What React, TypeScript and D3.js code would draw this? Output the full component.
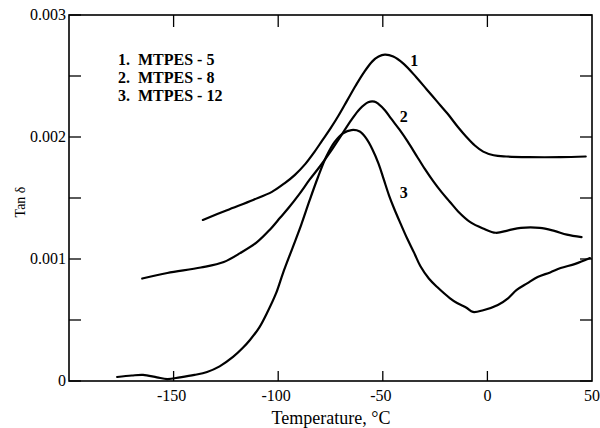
import React from "react";
import * as d3 from "d3";

const xTicks = [-150, -100, -50, 0, 50];
const yTickLabels = [
  { v: 0, t: "0" },
  { v: 0.001, t: "0.001" },
  { v: 0.002, t: "0.002" },
  { v: 0.003, t: "0.003" },
];
const yMinor = [0, 0.0005, 0.001, 0.0015, 0.002, 0.0025, 0.003];
const topTicks = [-150, -100, -50, 0];

const legendLabels = ["1.  MTPES - 5", "2.  MTPES - 8", "3.  MTPES - 12"];

// values in units of 0.001
const curve1: [number, number][] = [
  [-136, 1.32], [-124.5, 1.4], [-112, 1.484], [-103, 1.55], [-97, 1.62], [-92, 1.69],
  [-87, 1.78], [-83, 1.87], [-79, 1.97], [-75, 2.07], [-71, 2.18], [-67, 2.3],
  [-63, 2.42], [-59, 2.53], [-55, 2.62], [-52, 2.66], [-49, 2.675], [-45, 2.66],
  [-40, 2.6], [-34, 2.49], [-29, 2.39], [-24, 2.29], [-19, 2.19], [-14, 2.08],
  [-10, 2.0], [-6, 1.93], [-2, 1.88], [3, 1.85], [9, 1.84], [20, 1.835],
  [35, 1.835], [47, 1.84],
];
const curve2: [number, number][] = [
  [-165, 0.84], [-153, 0.885], [-137, 0.93], [-126, 0.975], [-118, 1.05], [-110, 1.14],
  [-104, 1.24], [-99, 1.34], [-95, 1.42], [-90, 1.53], [-85, 1.65], [-80, 1.76],
  [-75, 1.88], [-70, 2.01], [-65, 2.14], [-61, 2.23], [-57, 2.285], [-54, 2.29],
  [-52, 2.27], [-49, 2.22], [-46, 2.15], [-42, 2.06], [-38, 1.96], [-34, 1.85],
  [-30, 1.74], [-26, 1.64], [-22, 1.55], [-18, 1.47], [-14, 1.39], [-8, 1.3],
  [-2, 1.25], [4, 1.215], [10, 1.235], [16, 1.255], [25, 1.255], [32, 1.23],
  [38, 1.2], [45, 1.18],
];
const curve3: [number, number][] = [
  [-177, 0.033], [-170, 0.045], [-164.6, 0.05], [-158, 0.03], [-153, 0.016], [-147, 0.03],
  [-140, 0.05], [-134, 0.074], [-128, 0.12], [-121.6, 0.197], [-117, 0.27], [-113.5, 0.336],
  [-109, 0.44], [-105, 0.57], [-101, 0.72], [-97.7, 0.885], [-93, 1.098], [-89, 1.28],
  [-85, 1.48], [-81, 1.67], [-77, 1.84], [-73, 1.96], [-69, 2.03], [-65, 2.057],
  [-61, 2.045], [-58, 1.99], [-55, 1.9], [-52, 1.78], [-49.5, 1.65], [-47, 1.52],
  [-44.5, 1.41], [-41.5, 1.29], [-38.4, 1.17], [-35, 1.05], [-32, 0.94], [-28, 0.84],
  [-24, 0.77], [-18, 0.68], [-14.5, 0.639], [-10, 0.6], [-6.9, 0.566], [-2, 0.58],
  [5, 0.623], [10, 0.68], [14, 0.746], [19, 0.8], [24, 0.852], [30, 0.89],
  [35, 0.926], [42, 0.96], [49, 1.008],
];
const curves = [curve1, curve2, curve3];
const curveLabels = [
  { t: "1", x: -35, y: 2.62 },
  { t: "2", x: -40, y: 2.16 },
  { t: "3", x: -40, y: 1.54 },
];

export default function App() {
  const W = 600, H = 428;
  const L = 69, R = 592, T = 15, B = 381;
  const x = d3.scaleLinear().domain([-200, 50]).range([L, R]);
  const y = d3.scaleLinear().domain([0, 3]).range([B, T]);
  const line = d3
    .line<[number, number]>()
    .x((d) => x(d[0]))
    .y((d) => y(d[1]))
    .curve(d3.curveCatmullRom.alpha(0.5));
  const font = "'Liberation Serif', 'DejaVu Serif', serif";
  return (
    <svg
      width={W}
      height={H}
      style={{ position: "absolute", left: 0, top: 0, background: "#fff" }}
      fontFamily={font}
    >
      <rect x={L} y={T} width={R - L} height={B - T} fill="none" stroke="#000" strokeWidth={1.6} />
      {yMinor.map((v, i) => (
        <g key={i}>
          <line x1={L} x2={L + 12} y1={y(v * 1000)} y2={y(v * 1000)} stroke="#000" strokeWidth={1.3} />
          <line x1={R} x2={R - 12} y1={y(v * 1000)} y2={y(v * 1000)} stroke="#000" strokeWidth={1.3} />
        </g>
      ))}
      {topTicks.map((v, i) => (
        <g key={i}>
          <line x1={x(v)} x2={x(v)} y1={T} y2={T + 12} stroke="#000" strokeWidth={1.3} />
          <line x1={x(v)} x2={x(v)} y1={B} y2={B - 10} stroke="#000" strokeWidth={1.3} />
        </g>
      ))}
      {yTickLabels.map((d, i) => (
        <text key={i} x={L - 3} y={y(d.v * 1000) + 5} fontSize={16} textAnchor="end">
          {d.t}
        </text>
      ))}
      {xTicks.map((v, i) => (
        <text key={i} x={x(v) - (v < 0 ? 2 : 0)} y={401} fontSize={16} textAnchor="middle">
          {v}
        </text>
      ))}
      <text x={331} y={424} fontSize={18} textAnchor="middle">
        Temperature, °C
      </text>
      <text
        transform={`translate(25,202) rotate(-90)`}
        fontSize={14}
        textAnchor="middle"
      >
        Tan δ
      </text>
      {legendLabels.map((t, i) => (
        <text key={i} x={118} y={65 + i * 18} fontSize={16} fontWeight="bold" xmlSpace="preserve">
          {t}
        </text>
      ))}
      {curves.map((c, i) => (
        <path key={i} d={line(c) || ""} fill="none" stroke="#000" strokeWidth={2.2} strokeLinejoin="round" strokeLinecap="round" />
      ))}
      {curveLabels.map((d, i) => (
        <text key={i} x={x(d.x)} y={y(d.y) + 5} fontSize={16} fontWeight="bold" textAnchor="middle">
          {d.t}
        </text>
      ))}
    </svg>
  );
}
